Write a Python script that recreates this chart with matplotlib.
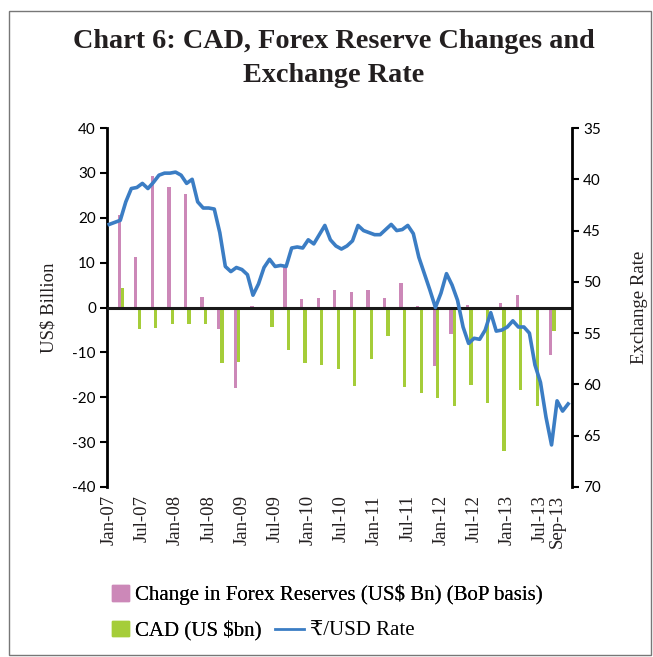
import numpy as np
import matplotlib
matplotlib.use("Agg")
import matplotlib.pyplot as plt
from matplotlib.patches import Rectangle, Patch
from matplotlib.lines import Line2D

plt.rcParams['axes.unicode_minus'] = False

W, H = 653, 657

# quarterly series, Q1-2007 .. Q3-2013 (US$ bn)
fx_change = [20.6, 11.3, 29.4, 26.8, 25.2, 2.4, -4.9, -18.0, 0.4, 0.2, 9.1, 1.9,
             2.2, 3.8, 3.4, 4.0, 2.1, 5.4, 0.4, -13.0, -5.8, 0.5, -0.2, 0.9, 2.8, -0.3, -10.6]
cad = [4.3, -4.8, -4.5, -3.7, -3.7, -3.6, -12.4, -12.1, -0.5, -4.3, -9.4, -12.4,
       -12.8, -13.6, -17.4, -11.5, -6.4, -17.8, -19.1, -20.1, -22.0, -17.2, -21.3,
       -31.9, -18.3, -22.0, -5.3]

# monthly Rs/USD, Jan-07 .. Dec-13
rate = [44.4, 44.2, 44.0, 42.2, 40.9, 40.8, 40.4, 40.9, 40.3, 39.6, 39.4, 39.4,
        39.3, 39.6, 40.4, 40.0, 42.2, 42.8, 42.8, 42.9, 45.2, 48.5, 49.0, 48.6,
        48.8, 49.3, 51.3, 50.2, 48.6, 47.8, 48.5, 48.4, 48.5, 46.7, 46.6, 46.7,
        45.9, 46.3, 45.4, 44.5, 45.9, 46.5, 46.8, 46.5, 46.0, 44.5, 45.0, 45.2,
        45.4, 45.4, 44.9, 44.4, 45.0, 44.9, 44.5, 45.3, 47.6, 49.2, 50.8, 52.5,
        51.1, 49.2, 50.3, 51.8, 54.4, 56.0, 55.5, 55.6, 54.7, 53.0, 54.8, 54.7,
        54.4, 53.8, 54.4, 54.4, 55.0, 58.1, 59.8, 63.2, 65.9, 61.6, 62.6, 61.9]

tick_labels = ['Jan-07', 'Jul-07', 'Jan-08', 'Jul-08', 'Jan-09', 'Jul-09', 'Jan-10',
               'Jul-10', 'Jan-11', 'Jul-11', 'Jan-12', 'Jul-12', 'Jan-13', 'Jul-13', 'Sep-13']
tick_pos = list(range(0, 79, 6)) + [81]

PINK = '#CC88B8'
GREEN = '#A5CD39'
BLUE = '#3B7DC4'
serif = ['Liberation Serif', 'DejaVu Serif', 'DejaVu Sans']
sans = ['Lato', 'DejaVu Sans']
TXT = '#231f20'

fig = plt.figure(figsize=(W / 100, H / 100), dpi=100)
fig.patches.append(Rectangle((9 / W, 2 / H), (W - 11) / W, (H - 13) / H,
                             transform=fig.transFigure, fill=False,
                             edgecolor='#777777', lw=1.0))

ax = fig.add_axes([107 / W, 1 - 487 / H, 465 / W, 359 / H])
q = np.arange(len(cad))
ax.bar(3 * q + 1.8, fx_change, width=0.6, color=PINK, zorder=2)
ax.bar(3 * q + 2.42, cad, width=0.6, color=GREEN, zorder=2)
ax.axhline(0, color='#1a1a1a', lw=2.2, zorder=3)
ax.set_ylim(-40, 40)
ax.set_yticks(range(-40, 41, 10))
ax.set_xlim(-0.4, 83.7)
ax.set_xticks(tick_pos)
ax.set_xticklabels(tick_labels, rotation=90, family=serif, fontsize=13.5, color=TXT)
ax.tick_params(axis='x', length=0, pad=6)
ax.tick_params(axis='y', direction='out', length=5, width=1.5, labelsize=11, pad=3)
for t in ax.get_yticklabels():
    t.set_family(sans)
ax.spines['top'].set_visible(False)
ax.spines['bottom'].set_visible(False)
ax.spines['right'].set_visible(False)
ax.spines['left'].set_linewidth(2)
ax.set_ylabel('US$ Billion', family=serif, fontsize=13.5, labelpad=11, color=TXT)

ax2 = ax.twinx()
ax2.plot(np.arange(len(rate)), rate, color=BLUE, lw=2.6, solid_joinstyle='round')
ax2.set_ylim(70, 35)
ax2.set_yticks(range(35, 71, 5))
ax2.tick_params(axis='y', direction='out', length=5, width=1.5, labelsize=11, pad=3)
for t in ax2.get_yticklabels():
    t.set_family(sans)
for s in ['top', 'bottom', 'left']:
    ax2.spines[s].set_visible(False)
ax2.spines['right'].set_linewidth(2)
ax2.set_ylabel('Exchange Rate', family=serif, fontsize=13.5, rotation=90, labelpad=22, color=TXT)

fig.text(334 / W, 1 - 42 / H, 'Chart 6: CAD, Forex Reserve Changes and', ha='center', va='center',
         family=serif, fontsize=20.3, fontweight='bold', color=TXT)
fig.text(334 / W, 1 - 75 / H, 'Exchange Rate', ha='center', va='center',
         family=serif, fontsize=20.3, fontweight='bold', color=TXT)

prop = {'family': serif, 'size': 15}
common = dict(frameon=False, prop=prop, borderpad=0, borderaxespad=0,
              handletextpad=0.3, loc='center left')
leg1 = fig.legend([Patch(color=PINK)], ['Change in Forex Reserves (US$ Bn) (BoP basis)'],
                  bbox_to_anchor=(112 / W, 1 - 595 / H), handlelength=0.8,
                  handleheight=0.75, **common)
leg2 = fig.legend([Patch(color=GREEN)], ['CAD (US $bn)'],
                  bbox_to_anchor=(112 / W, 1 - 631 / H), handlelength=0.8,
                  handleheight=0.75, **common)
leg3 = fig.legend([Line2D([], [], color=BLUE, lw=2.0)], ['₹/USD Rate'],
                  bbox_to_anchor=(275 / W, 1 - 631 / H), handlelength=1.4, **common)
fig.add_artist(leg1)
fig.add_artist(leg2)

fig.savefig('out.png', dpi=100)
